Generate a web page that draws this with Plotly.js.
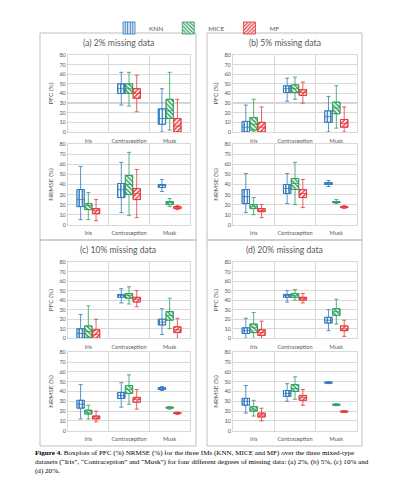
<!DOCTYPE html>
<html><head><meta charset="utf-8">
<script src="https://cdn.plot.ly/plotly-3.0.1.min.js"></script>
<style>html,body{margin:0;padding:0;background:#fff;}#chart{width:394px;height:481px;}</style>
</head><body><div id="chart"></div>
<script>
const categories = ['Iris', 'Contraception', 'Musk'];
const methods = ['KNN', 'MICE', 'MF'];
const panelTitles = ['(a) 2% missing data', '(b) 5% missing data', '(c) 10% missing data', '(d) 20% missing data'];
const yTitles = ['PFC (%)', 'NRMSE (%)'];

// each entry: [lower whisker, Q1, median, Q3, upper whisker] for Iris, Contraception, Musk
const pfc2_KNN    = [null, [28, 40, 45, 50, 62], [0, 8, 14, 24, 45]];
const pfc2_MICE   = [null, [27, 40, 45, 50, 62], [2, 14, 22, 34, 62]];
const pfc2_MF     = [null, [21, 35, 40, 45, 59], [0, 0, 6, 14, 34]];
const nrmse2_KNN  = [[5, 18, 25, 35, 58], [12, 27, 35, 41, 62], [33, 37, 39, 40, 45]];
const nrmse2_MICE = [[5, 15, 19, 21, 32], [9, 30, 40, 49, 72], [18, 20, 22, 23, 26]];
const nrmse2_MF   = [[4, 11, 14, 16, 25], [7, 25, 31, 36, 55], [15, 16, 17, 18, 19]];

const pfc5_KNN    = [[0, 0, 5, 11, 28], [32, 41, 45, 48, 56], [0, 10, 16, 22, 37]];
const pfc5_MICE   = [[0, 2, 8, 15, 34], [34, 41, 45, 49, 57], [4, 19, 25, 31, 48]];
const pfc5_MF     = [[0, 0, 5, 10, 26], [30, 38, 41, 44, 52], [0, 5, 9, 13, 26]];
const nrmse5_KNN  = [[12, 21, 28, 35, 51], [21, 31, 36, 40, 51], [38, 40, 41, 42, 44]];
const nrmse5_MICE = [[10, 16, 18, 20, 27], [20, 35, 41, 46, 62], [21, 22, 22.5, 23, 25]];
const nrmse5_MF   = [[7, 13, 14, 16, 20], [17, 27, 31, 35, 45], [16, 17, 17.5, 18, 19]];

const pfc10_KNN    = [[0, 0, 5, 10, 25], [37, 43, 45, 46, 52], [4, 14, 17, 20, 31]];
const pfc10_MICE   = [[0, 1, 7, 13, 34], [36, 42, 45, 47, 54], [10, 19, 24, 28, 42]];
const pfc10_MF     = [[0, 0, 4, 9, 20], [33, 38, 41, 43, 50], [0, 6, 9, 12, 21]];
const nrmse10_KNN  = [[12, 23, 27, 31, 47], [24, 33, 36, 39, 49], [41, 42, 43, 44, 45]];
const nrmse10_MICE = [[12, 17, 19, 21, 26], [27, 38, 42, 46, 57], [22, 23, 23.5, 24, 24.5]];
const nrmse10_MF   = [[9, 12, 14, 15, 20], [22, 29, 32, 34, 42], [16.5, 17.5, 18, 18.5, 19]];

const pfc20_KNN    = [[0, 5, 8, 11, 21], [38, 43, 45, 46, 50], [8, 16, 19, 22, 30]];
const pfc20_MICE   = [[0, 6, 11, 15, 27], [40, 43, 45, 47, 51], [15, 24, 28, 31, 41]];
const pfc20_MF     = [[0, 3, 6, 9, 18], [37, 40, 42, 43, 47], [2, 8, 10, 13, 19]];
const nrmse20_KNN  = [[18, 26, 30, 33, 46], [30, 35, 38, 41, 48], [48, 48.5, 49, 49.5, 50]];
const nrmse20_MICE = [[15, 20, 22, 24.5, 31], [32, 40, 43, 47, 55], [25.5, 26, 26.5, 27, 27.5]];
const nrmse20_MF   = [[10, 14, 16, 18, 23], [26, 31, 34, 36, 42], [18.5, 19, 19.5, 20, 20.5]];

const caption = '<b>Figure 4.</b> Boxplots of PFC (%) NRMSE (%) for the three IMs (KNN, MICE and MF) over the three mixed-type<br>datasets (\u201cIris\u201d, \u201cContraception\u201d and \u201cMusk\u201d) for four different degrees of missing data: (a) 2%, (b) 5%, (c) 10% and<br>(d) 20%.';

// ---- styling / layout ----
const colors = {KNN: '#2e78ba', MICE: '#2f9e5c', MF: '#e3383b'};
const patterns = {KNN: '|', MICE: '\\', MF: '/'};
const offsets = {KNN: -0.19, MICE: 0, MF: 0.19};
const boxW = 0.18;
const textGray = '#595959';
const gridGray = '#d9d9d9';

// subplot order: a-PFC, a-NRMSE, b-PFC, b-NRMSE, c-PFC, c-NRMSE, d-PFC, d-NRMSE
const subplotData = [
  [pfc2_KNN, pfc2_MICE, pfc2_MF], [nrmse2_KNN, nrmse2_MICE, nrmse2_MF],
  [pfc5_KNN, pfc5_MICE, pfc5_MF], [nrmse5_KNN, nrmse5_MICE, nrmse5_MF],
  [pfc10_KNN, pfc10_MICE, pfc10_MF], [nrmse10_KNN, nrmse10_MICE, nrmse10_MF],
  [pfc20_KNN, pfc20_MICE, pfc20_MF], [nrmse20_KNN, nrmse20_MICE, nrmse20_MF]
];

const W = 394, H = 481;
const px = v => v / W;
const py = v => 1 - v / H;
const xDomLeft = [px(68), px(190)];
const xDomRight = [px(233), px(357)];
const yDoms = {
  topPFC: [py(132), py(55)], topNR: [py(224.7), py(144.3)],
  botPFC: [py(338.3), py(262)], botNR: [py(430.7), py(352.3)]
};
const subplotDomains = [
  [xDomLeft, yDoms.topPFC], [xDomLeft, yDoms.topNR],
  [xDomRight, yDoms.topPFC], [xDomRight, yDoms.topNR],
  [xDomLeft, yDoms.botPFC], [xDomLeft, yDoms.botNR],
  [xDomRight, yDoms.botPFC], [xDomRight, yDoms.botNR]
];

const traces = [];
const layout = {
  width: W, height: H,
  margin: {l: 0, r: 0, t: 0, b: 0},
  paper_bgcolor: '#ffffff', plot_bgcolor: '#ffffff',
  font: {family: 'Lato, "Open Sans", sans-serif', color: textGray},
  barmode: 'overlay', boxmode: 'overlay',
  showlegend: true,
  legend: {orientation: 'h', x: px(197), xanchor: 'center', y: py(28), yanchor: 'middle',
           font: {size: 6.5, color: textGray}, itemwidth: 30, bgcolor: 'rgba(0,0,0,0)',
           traceorder: 'normal', borderwidth: 0},
  shapes: [], annotations: []
};

subplotData.forEach((group, s) => {
  const suf = s === 0 ? '' : String(s + 1);
  const xa = 'x' + suf, ya = 'y' + suf;
  const [xd, yd] = subplotDomains[s];
  layout['xaxis' + suf] = {
    domain: xd, anchor: ya, range: [-0.5, 2.5],
    tickmode: 'array', tickvals: [0, 1, 2], ticktext: categories,
    showgrid: false, zeroline: false, showline: true, mirror: true,
    linecolor: gridGray, linewidth: 1, ticks: '',
    tickfont: {size: 5.6, color: textGray}, ticklabelstandoff: 3,
    minor: {tickmode: 'array', tickvals: [0.5, 1.5], showgrid: true, gridcolor: gridGray, gridwidth: 1, ticks: ''},
    fixedrange: true
  };
  layout['yaxis' + suf] = {
    domain: yd, anchor: xa, range: [0, 80], tick0: 0, dtick: 10,
    showgrid: true, gridcolor: gridGray, gridwidth: 1, zeroline: false,
    showline: true, mirror: true, linecolor: gridGray, linewidth: 1, ticks: '',
    tickfont: {size: 5.6, color: textGray},
    title: {text: yTitles[s % 2], font: {size: 6.5, color: textGray}, standoff: 5},
    fixedrange: true
  };
  methods.forEach((m, k) => {
    const stats = group[k];
    const idx = [], lo = [], q1 = [], med = [], q3 = [], hi = [];
    stats.forEach((st, i) => {
      if (!st) return;
      idx.push(i + offsets[m]);
      lo.push(st[0]); q1.push(st[1]); med.push(st[2]); q3.push(st[3]); hi.push(st[4]);
    });
    traces.push({
      type: 'bar', name: m, legendgroup: m, showlegend: s === 0,
      xaxis: xa, yaxis: ya, x: idx, base: q1, y: q3.map((v, i) => v - q1[i]),
      width: boxW, hoverinfo: 'skip',
      marker: {color: '#ffffff', line: {color: colors[m], width: 0.8},
               pattern: {shape: patterns[m], fgcolor: colors[m], bgcolor: '#ffffff', size: 3.2, solidity: 0.45, fillmode: 'replace'}}
    });
    traces.push({
      type: 'box', name: m, legendgroup: m, showlegend: false,
      xaxis: xa, yaxis: ya, x: idx,
      q1: q1, median: med, q3: q3, lowerfence: lo, upperfence: hi,
      width: boxW, whiskerwidth: 0.55, boxpoints: false,
      fillcolor: 'rgba(0,0,0,0)', line: {color: colors[m], width: 0.8}, hoverinfo: 'skip'
    });
  });
});

// darker line at PFC 30 seen in the top panels
['y', 'y3'].forEach((ya, i) => {
  layout.shapes.push({type: 'line', xref: (i === 0 ? 'x' : 'x3') + ' domain', yref: ya,
    x0: 0, x1: 1, y0: 30, y1: 30, line: {color: '#8a8a8a', width: 1}, layer: 'below'});
});

// panel frames
const frames = [[40, 196, 33, 240], [207, 362, 33, 240], [40, 196, 240, 446], [207, 362, 240, 446]];
frames.forEach(f => layout.shapes.push({type: 'rect', xref: 'paper', yref: 'paper',
  x0: px(f[0]), x1: px(f[1]), y0: py(f[3]), y1: py(f[2]), line: {color: '#bfbfbf', width: 1}}));

// panel titles
const titlePos = [[118, 43], [284.5, 43], [118, 250], [284.5, 250]];
panelTitles.forEach((t, i) => layout.annotations.push({text: t, xref: 'paper', yref: 'paper',
  x: px(titlePos[i][0]), y: py(titlePos[i][1]), xanchor: 'center', yanchor: 'middle', showarrow: false,
  font: {size: 8.6, color: textGray}}));

// caption
layout.annotations.push({text: caption, xref: 'paper', yref: 'paper', x: px(33), y: py(447),
  xanchor: 'left', yanchor: 'top', align: 'left', showarrow: false,
  font: {family: '"Liberation Serif", "Times New Roman", serif', size: 7.1, color: '#000000'}});

Plotly.newPlot('chart', traces, layout, {staticPlot: true, displayModeBar: false});
</script>
</body></html>
